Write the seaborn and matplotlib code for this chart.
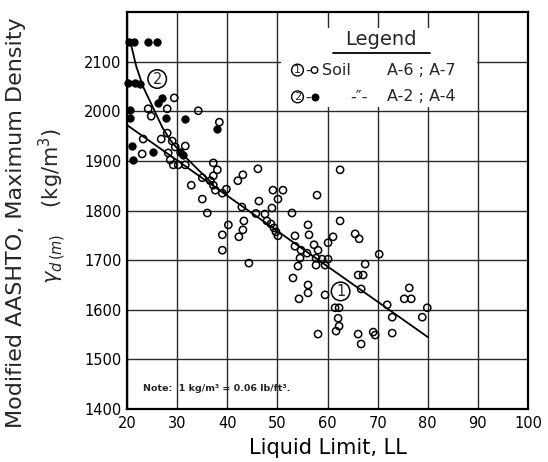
import matplotlib
matplotlib.use("Agg")
import matplotlib.pyplot as plt
from matplotlib.patches import Rectangle
import seaborn as sns

# Soil group 1 (A-6, A-7): liquid limit and max dry density (kg/m^3)
soil1_ll = [29.4, 28.0, 24.2, 24.8, 34.2, 38.4, 23.2, 26.8, 28.0, 29.0,
            31.6, 29.6, 23.0, 28.2, 28.6, 29.2, 30.2, 31.6, 32.8, 35.0,
            35.0, 36.0, 37.2, 38.0, 37.2, 36.6, 37.2, 37.6, 39.0, 39.8,
            42.1, 43.1, 46.1, 42.9, 43.3, 43.1, 42.3, 40.2, 39.0, 39.0,
            44.3, 46.3, 45.7, 47.5, 49.1, 51.1, 50.1, 48.9, 47.9, 48.7,
            49.3, 49.7, 50.1, 52.9, 57.9, 62.5, 62.5, 56.1, 56.3, 53.5,
            53.5, 54.7, 55.9, 54.5, 54.1, 57.3, 58.1, 57.7, 57.7, 58.9,
            60.1, 59.5, 60.1, 61.1, 65.5, 66.3, 70.3, 67.5, 66.1, 67.1,
            66.7, 76.3, 75.3, 76.7, 79.9, 78.9, 71.9, 72.9, 72.9, 69.1,
            69.5, 66.1, 66.7, 61.5, 62.3, 62.1, 62.3, 61.7, 58.1, 53.1,
            56.1, 56.1, 54.3, 59.5]
soil1_rho = [2027, 2005, 2005, 1990, 2001, 1978, 1944, 1944, 1956, 1940,
             1930, 1928, 1914, 1916, 1902, 1892, 1892, 1892, 1851, 1866,
             1823, 1795, 1896, 1882, 1870, 1860, 1851, 1841, 1835, 1843,
             1860, 1872, 1884, 1807, 1779, 1761, 1747, 1771, 1751, 1720,
             1694, 1819, 1794, 1793, 1841, 1841, 1823, 1805, 1779, 1773,
             1765, 1757, 1749, 1795, 1831, 1882, 1779, 1771, 1751, 1749,
             1728, 1720, 1714, 1704, 1688, 1731, 1720, 1704, 1690, 1702,
             1702, 1690, 1735, 1747, 1753, 1743, 1712, 1692, 1670, 1670,
             1642, 1644, 1622, 1622, 1604, 1585, 1610, 1585, 1553, 1555,
             1549, 1551, 1531, 1604, 1604, 1583, 1567, 1557, 1551, 1664,
             1650, 1634, 1622, 1630]

# Soil group 2 (A-2, A-4)
soil2_ll = [20.4, 21.4, 24.2, 26.0, 20.2, 21.6, 22.6, 27.0, 26.2, 20.6,
            20.6, 27.8, 31.6, 38.0, 21.0, 21.2, 25.2, 30.6, 31.2]
soil2_rho = [2140, 2140, 2140, 2140, 2057, 2057, 2055, 2027, 2017, 2002,
             1986, 1986, 1984, 1964, 1930, 1902, 1918, 1918, 1912]

# Trend lines
trend1_ll = [20, 80]
trend1_rho = [1972, 1545]
trend2_ll = [20.6, 21.8, 23.2, 25.0, 27.0, 28.6, 30.6, 32.6, 34.6, 37.2]
trend2_rho = [2142, 2091, 2049, 2011, 1968, 1942, 1918, 1898, 1878, 1853]

x_ticks = [20, 30, 40, 50, 60, 70, 80, 90, 100]
y_ticks = [1400, 1500, 1600, 1700, 1800, 1900, 2000, 2100]

sns.set_theme(style="white")
plt.rcParams["font.family"] = ["DejaVu Sans"]

fig = plt.figure(figsize=(5.48, 4.62), dpi=100)
ax = fig.add_axes([0.232, 0.1147, 0.7315, 0.8593])

ax.set_xlim(20, 100)
ax.set_ylim(1400, 2200)
ax.set_xticks(x_ticks)
ax.set_yticks(y_ticks)
ax.set_axisbelow(True)
ax.grid(True, color="#2a2a2a", linewidth=1.0)
for sp in ax.spines.values():
    sp.set_color("black")
    sp.set_linewidth(1.6)
ax.tick_params(axis="y", length=3, width=1.0, pad=1, labelsize=10.5, colors="black")
ax.tick_params(axis="x", length=0, pad=5, labelsize=10.5, colors="black")
ax.set_xlabel("Liquid Limit, LL", fontsize=15, labelpad=5, color="black")
ax.set_ylabel("")

sns.scatterplot(x=soil1_ll, y=soil1_rho, marker="o", s=27, facecolor="none",
                edgecolor="black", linewidth=1.1, ax=ax, zorder=3, clip_on=False)
sns.scatterplot(x=soil2_ll, y=soil2_rho, marker="o", s=27, color="black",
                edgecolor="black", linewidth=0.8, ax=ax, zorder=3, clip_on=False)
sns.lineplot(x=trend1_ll, y=trend1_rho, color="black", linewidth=1.3,
             sort=False, estimator=None, ax=ax, zorder=4)
sns.lineplot(x=trend2_ll, y=trend2_rho, color="black", linewidth=1.3,
             sort=False, estimator=None, ax=ax, zorder=4)

circ = dict(boxstyle="circle,pad=0.12", fc="white", ec="black", lw=1.1)
ax.text(26.0, 2065, "2", fontsize=10.5, ha="center", va="center", bbox=circ, zorder=5)
ax.text(62.6, 1637, "1", fontsize=10.5, ha="center", va="center", bbox=circ, zorder=5)

# Legend panel
ax.add_patch(Rectangle((50.7, 2008), 39.2, 160, facecolor="white",
                       edgecolor="none", zorder=2))
ax.text(70.6, 2144, "Legend", fontsize=14, ha="center", va="center", zorder=5)
ax.plot([61.1, 80.4], [2117, 2117], color="black", linewidth=1.3, zorder=5)
small_circ = dict(boxstyle="circle,pad=0.08", fc="white", ec="black", lw=1.0)
for yy, num, filled, label in [(2083, "1", False, "Soil"), (2029, "2", True, "-\u2033-")]:
    ax.text(54.0, yy, num, fontsize=8, ha="center", va="center", bbox=small_circ, zorder=5)
    ax.text(55.6, yy, "-", fontsize=11, ha="left", va="center", zorder=5)
    ax.scatter([57.4], [yy], s=22, marker="o",
               facecolor="black" if filled else "none", edgecolor="black",
               linewidth=1.0, zorder=5)
    ax.text(66.2 if filled else 58.9, yy, label, fontsize=11.5,
            ha="center" if filled else "left", va="center", zorder=5)
ax.text(71.9, 2083, "A-6 ; A-7", fontsize=11.5, ha="left", va="center", zorder=5)
ax.text(71.9, 2029, "A-2 ; A-4", fontsize=11.5, ha="left", va="center", zorder=5)

ax.text(23.2, 1442, "Note:  1 kg/m\u00b3 = 0.06 lb/ft\u00b3.", fontsize=6.8,
        fontweight="semibold", ha="left", va="center", zorder=5)

fig.text(0.029, 0.518, "Modified AASHTO, Maximum Density", rotation=90,
         fontsize=16, ha="center", va="center")
fig.text(0.095, 0.555, r"$\gamma_{d\,(m)}$    (kg/m$^3$)", rotation=90,
         fontsize=15, ha="center", va="center")

fig.savefig("out.png", dpi=100, facecolor="white")
